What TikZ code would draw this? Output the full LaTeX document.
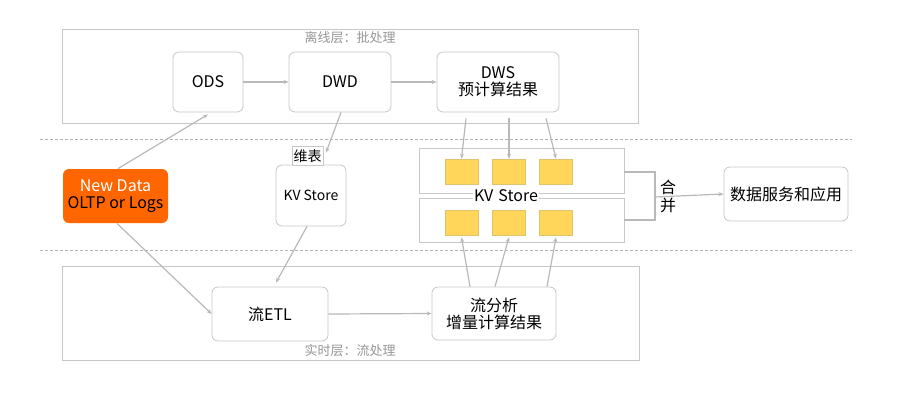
\documentclass[tikz,border=0pt]{standalone}
\usepackage{fontspec}
\setmainfont{Noto Sans CJK SC}
\usetikzlibrary{arrows.meta,calc}
\definecolor{boxline}{RGB}{200,200,200}
\definecolor{connline}{RGB}{185,185,185}
\definecolor{orangefill}{RGB}{255,102,0}
\definecolor{sqfill}{RGB}{255,214,90}
\definecolor{sqline}{RGB}{225,195,110}
\definecolor{labelgray}{RGB}{150,150,150}
\begin{document}
\begin{tikzpicture}[x=1pt,y=-1pt,
  box/.style={draw=boxline, rounded corners=6pt, fill=white, line width=0.8pt,
    font=\fontsize{16}{18}\selectfont, align=center, inner sep=0pt},
  layer/.style={draw=boxline, line width=0.8pt, inner sep=0pt},
  kvbox/.style={draw=boxline, line width=0.8pt, fill=white, inner sep=0pt},
  sq/.style={draw=sqline, fill=sqfill, line width=0.6pt, minimum width=33pt, minimum height=25pt, inner sep=0pt},
  conn/.style={draw=connline, line width=1.2pt, -{Stealth[length=5pt,width=4pt]}},
  sep/.style={draw=black!30, line width=1.3pt, dash pattern=on 3pt off 2pt},
  layerlabel/.style={text=labelgray, font=\fontsize{13}{15}\selectfont, inner sep=0pt}]
\useasboundingbox (0,0) rectangle (913,410);

% layers
\node[layer, minimum width=576pt, minimum height=94pt] (top) at (350,76) {};
\node[layerlabel] (toplabel) at (350,38) {离线层：批处理};
\node[layer, minimum width=577pt, minimum height=94pt] (bot) at (350.5,313) {};
\node[layerlabel] (botlabel) at (350,351) {实时层：流处理};

% separators
\coordinate (s1a) at (40,139.5);
\coordinate (s1b) at (852,139.5);
\coordinate (s2a) at (40,250.5);
\coordinate (s2b) at (852,250.5);
\draw[sep] (s1a) -- (s1b);
\draw[sep] (s2a) -- (s2b);

% offline nodes
\node[box, minimum width=70pt, minimum height=60pt] (ods) at (208,82) {ODS};
\node[box, minimum width=102pt, minimum height=60pt] (dwd) at (340,82) {DWD};
\node[box, minimum width=122pt, minimum height=60pt] (dws) at (498,82) {DWS\\[-1pt]预计算结果};

% middle
\node[box, draw=none, fill=orangefill, minimum width=105pt, minimum height=54pt] (nd) at (115.5,196)
  {\textcolor{white}{New Data}\\[-1pt]\textcolor{black}{OLTP or Logs}};
\node[box, minimum width=70pt, minimum height=61pt, font=\fontsize{14}{16}\selectfont] (kv) at (311,195.5) {KV Store};
\node[draw=boxline, fill=white, line width=0.6pt, inner sep=0pt, minimum width=31pt, minimum height=19pt,
  font=\fontsize{14}{15}\selectfont] (wei) at (307.5,156) {维表};

\node[kvbox, minimum width=205pt, minimum height=45pt] (ukv) at (521.5,170.5) {};
\node[kvbox, minimum width=205pt, minimum height=44pt] (lkv) at (521.5,220) {};
\node[sq] (u1) at (461.5,171.5) {};
\node[sq] (u2) at (509,171.5) {};
\node[sq] (u3) at (556,171.5) {};
\node[sq] (l1) at (461.5,222.5) {};
\node[sq] (l2) at (509,222.5) {};
\node[sq] (l3) at (556,222.5) {};
\node[fill=white, inner sep=1pt, font=\fontsize{16}{18}\selectfont] (kvlabel) at (506,196) {KV\hspace{5pt}Store};

\node[box, minimum width=124pt, minimum height=54pt] (svc) at (786,194) {数据服务和应用};

% merge bracket
\coordinate (m) at (655,197);
\draw[draw=connline, line width=1.2pt] ([yshift=-1.5pt]ukv.east) -| (m) |- (lkv.east);
\draw[conn] (m) -- (svc.west);
\node[font=\fontsize{16}{18}\selectfont, align=center, inner sep=0pt] (merge) at (668,196) {合\\并};

% realtime nodes
\node[box, minimum width=116pt, minimum height=54pt] (etl) at (270,314) {流ETL};
\node[box, minimum width=124pt, minimum height=53pt] (ana) at (494,313.5) {流分析\\[-1pt]增量计算结果};

% connectors
\draw[conn] ([xshift=2.5pt]nd.north) -- ([yshift=-2pt]ods.south);
\draw[conn] (ods.east) -- (dwd.west);
\draw[conn] (dwd.east) -- (dws.west);
\draw[conn] ([xshift=1pt]dwd.south) -- ([xshift=15pt,yshift=12pt]kv.north);
\draw[conn] ([xshift=-4pt]kv.south) -- ([xshift=6pt,yshift=4pt]etl.north);
\draw[conn] ([xshift=1.5pt]nd.south) -- (etl.west);
\draw[conn] (etl.east) -- (ana.west);

\draw[conn] ([xshift=-32pt,yshift=-6pt]dws.south) -- (u1.north);
\draw[conn] ([xshift=11pt,yshift=-6pt]dws.south) -- (u2.north);
\draw[conn] ([xshift=48pt,yshift=-6pt]dws.south) -- (u3.north);

\draw[conn] ([xshift=-24pt]ana.north) -- ([yshift=-2pt]l1.south);
\draw[conn] ([xshift=1pt]ana.north) -- ([yshift=-2pt]l2.south);
\draw[conn] ([xshift=53pt]ana.north) -- ([yshift=-2pt]l3.south);
\end{tikzpicture}
\end{document}
